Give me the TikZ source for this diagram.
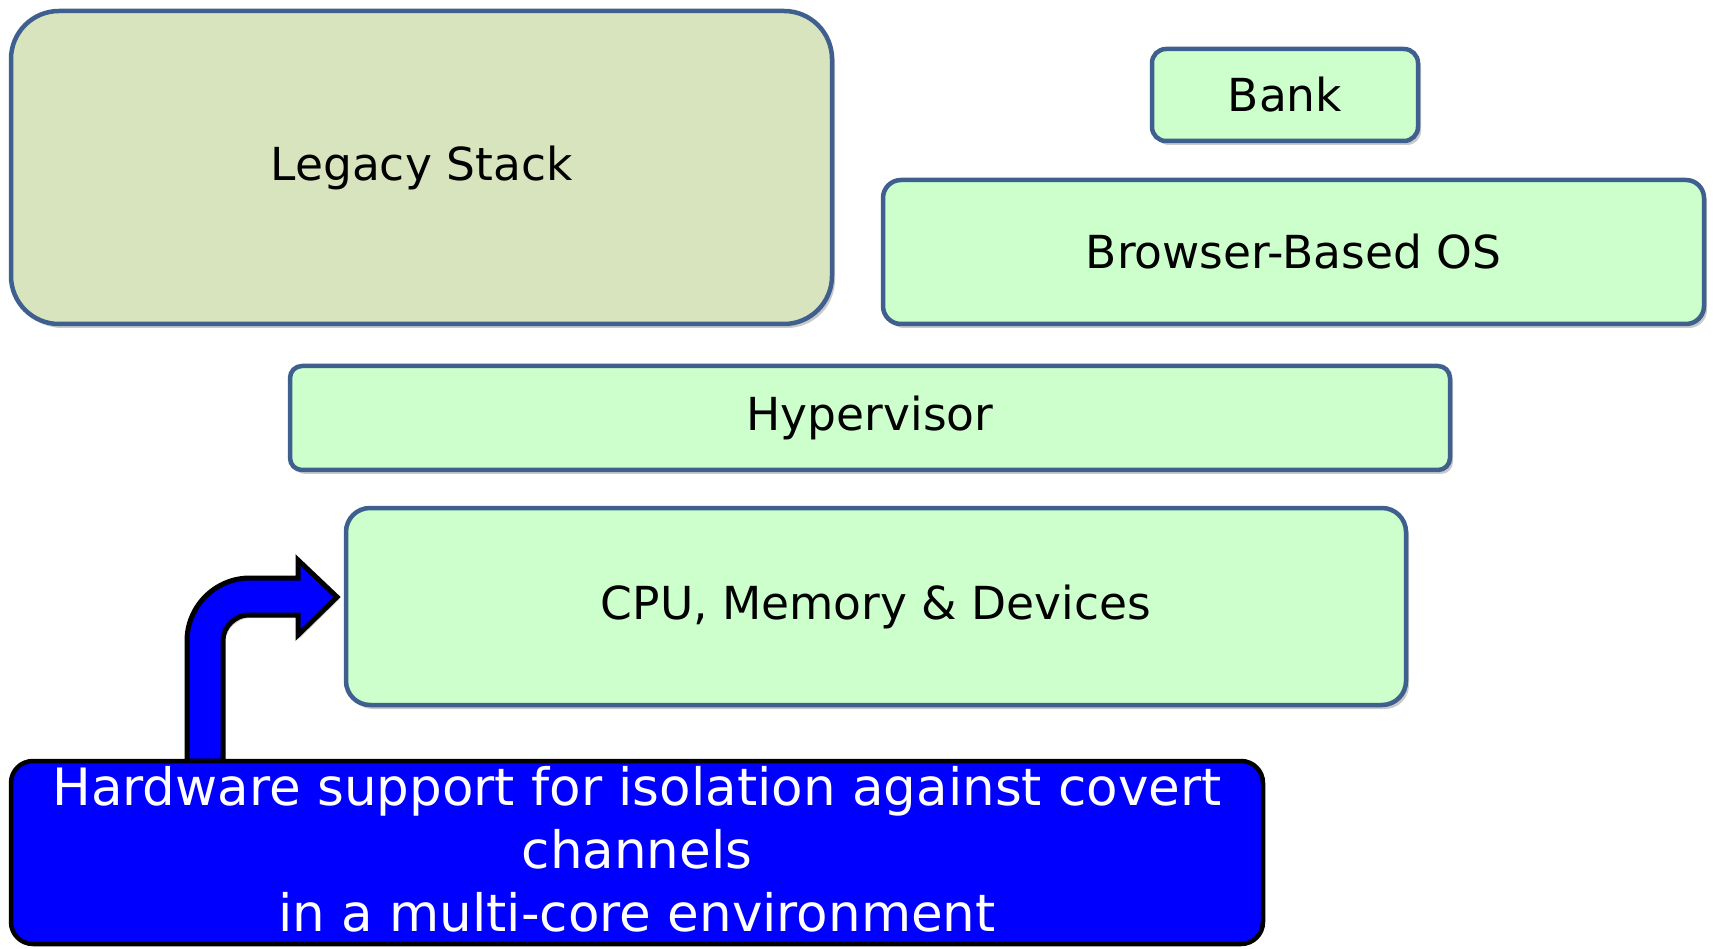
\documentclass[tikz,border=0pt]{standalone}
\usepackage{fontspec}
\setmainfont{DejaVu Sans}
\usetikzlibrary{shadows}
\definecolor{edgeblue}{HTML}{3F5F8F}
\definecolor{legacyfill}{HTML}{D7E4BD}
\definecolor{layerfill}{HTML}{CCFFCC}
\definecolor{calloutblue}{HTML}{0000FF}
\tikzset{
  layer/.style={draw=edgeblue, line width=4.5pt, fill=layerfill, inner sep=0pt,
    font=\fontsize{45.5}{52}\selectfont,
    drop shadow={shadow xshift=3pt, shadow yshift=-4pt, opacity=0.35, fill=black!60}},
  callout/.style={draw=black, line width=4.5pt, fill=calloutblue, inner sep=0pt},
  callouttext/.style={text=white, align=center, inner sep=0pt,
    font=\fontsize{51.5}{63}\selectfont},
  bentarrow/.style={draw=black, line width=5pt, fill=calloutblue, line join=miter}
}
\begin{document}
\begin{tikzpicture}[x=1pt, y=-1pt]
\useasboundingbox (0,0) rectangle (1717,949);

% software layers
\node[layer, fill=legacyfill, rounded corners=48pt,
      minimum width=821pt, minimum height=313pt] (legacy) at (421.5,167.5) {Legacy Stack};
\node[layer, rounded corners=14pt,
      minimum width=266pt, minimum height=92pt] (bank) at (1285,95) {Bank};
\node[layer, rounded corners=18pt,
      minimum width=821pt, minimum height=144pt] (browser) at (1293.5,252) {Browser-Based OS};
\node[layer, rounded corners=12pt,
      minimum width=1160pt, minimum height=104pt] (hyper) at (870,418) {Hypervisor};
\node[layer, rounded corners=24pt,
      minimum width=1060pt, minimum height=197pt] (cpu) at (876,606.5) {CPU, Memory \& Devices};

% bent arrow from the callout up to the hardware layer
\coordinate (tip) at (337,597);
\draw[bentarrow, drop shadow={shadow xshift=2pt, shadow yshift=-3pt, opacity=0.3, fill=black!60}]
  (187,761) -- (187,641)
  .. controls (187,606.2) and (215.2,578) .. (250,578)
  -- (298,578) -- (298,560) -- (tip) -- (298,635) -- (298,615) -- (248,615)
  .. controls (236.2,615) and (223,626.2) .. (223,640)
  -- (223,761) -- cycle;

% callout box
\node[callout, rounded corners=22pt,
      minimum width=1252pt, minimum height=183pt] (hw) at (637,852.5) {};
\node[callouttext] (hwtext) at (637,849)
  {Hardware support for isolation against covert\\channels\\in a multi-core environment};
\end{tikzpicture}
\end{document}
